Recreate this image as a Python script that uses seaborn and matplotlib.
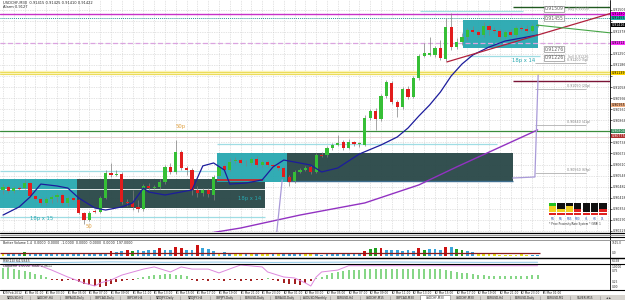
import matplotlib
matplotlib.use("Agg")
import matplotlib.pyplot as plt
import seaborn as sns
import pandas as pd
import numpy as np
from matplotlib.patches import Rectangle
from matplotlib.lines import Line2D

sns.set_style("white")
plt.rcParams['font.family'] = ['DejaVu Sans']

# ---------------- DATA ----------------
opens = [0.90463,0.90480,0.90457,0.90474,0.90474,0.90503,0.90428,0.90411,0.90388,0.90411,
         0.90422,0.90434,0.90388,0.90417,0.90405,0.90330,0.90289,0.90341,0.90336,0.90417,
         0.90561,0.90549,0.90555,0.90393,0.90388,0.90365,0.90353,0.90486,0.90474,0.90480,
         0.90509,0.90596,0.90567,0.90682,0.90590,0.90578,0.90463,0.90445,0.90463,0.90434,
         0.90544,0.90602,0.90578,0.90630,0.90636,0.90619,0.90619,0.90642,0.90607,0.90625,
         0.90607,0.90602,0.90590,0.90538,0.90515,0.90567,0.90578,0.90596,0.90567,0.90665,
         0.90665,0.90706,0.90723,0.90740,0.90706,0.90740,0.90729,0.90723,0.90879,0.90919,
         0.90873,0.91006,0.91081,0.90971,0.90943,0.91047,0.91000,0.91110,0.91237,0.91243,
         0.91243,0.91284,0.91220,0.91405,0.91289,0.91318,0.91347,0.91388,0.91376,0.91359,
         0.91411,0.91388,0.91382,0.91347,0.91376,0.91359,0.91399,0.91393,0.91382,0.91411]
closes = [0.90480,0.90457,0.90474,0.90471,0.90503,0.90428,0.90411,0.90388,0.90411,0.90422,
          0.90434,0.90388,0.90417,0.90405,0.90330,0.90289,0.90330,0.90336,0.90417,0.90561,
          0.90549,0.90555,0.90393,0.90388,0.90365,0.90353,0.90486,0.90474,0.90480,0.90509,
          0.90596,0.90567,0.90682,0.90590,0.90578,0.90463,0.90445,0.90463,0.90440,0.90538,
          0.90596,0.90578,0.90625,0.90636,0.90619,0.90616,0.90642,0.90607,0.90625,0.90607,
          0.90602,0.90590,0.90538,0.90509,0.90567,0.90578,0.90590,0.90567,0.90665,0.90662,
          0.90706,0.90723,0.90734,0.90706,0.90740,0.90729,0.90732,0.90879,0.90919,0.90873,
          0.91006,0.91087,0.90971,0.90943,0.91047,0.91000,0.91110,0.91237,0.91255,0.91255,
          0.91284,0.91226,0.91405,0.91289,0.91318,0.91347,0.91388,0.91376,0.91359,0.91411,
          0.91388,0.91382,0.91347,0.91376,0.91359,0.91399,0.91393,0.91382,0.91411,0.91416]
highs = [0.90497,0.90492,0.90486,0.90486,0.90521,0.90509,0.90434,0.90417,0.90422,0.90434,
         0.90445,0.90445,0.90428,0.90422,0.90411,0.90336,0.90341,0.90353,0.90428,0.90578,
         0.90619,0.90578,0.90567,0.90411,0.90463,0.90405,0.90497,0.90503,0.90492,0.90526,
         0.90607,0.90619,0.90752,0.90694,0.90602,0.90590,0.90486,0.90474,0.90474,0.90549,
         0.90607,0.90613,0.90648,0.90654,0.90648,0.90636,0.90654,0.90659,0.90636,0.90636,
         0.90619,0.90613,0.90602,0.90549,0.90578,0.90590,0.90602,0.90607,0.90677,0.90682,
         0.90717,0.90734,0.90781,0.90752,0.90758,0.90746,0.90740,0.90896,0.90931,0.90937,
         0.91018,0.91099,0.91093,0.90983,0.91058,0.91064,0.91122,0.91249,0.91312,0.91347,
         0.91295,0.91330,0.91457,0.91486,0.91341,0.91370,0.91399,0.91411,0.91388,0.91434,
         0.91422,0.91405,0.91393,0.91388,0.91393,0.91411,0.91411,0.91416,0.91422,0.91422]
lows = [0.90440,0.90445,0.90445,0.90463,0.90469,0.90417,0.90405,0.90376,0.90376,0.90388,
        0.90393,0.90376,0.90370,0.90399,0.90324,0.90266,0.90284,0.90330,0.90330,0.90411,
        0.90538,0.90544,0.90382,0.90370,0.90347,0.90336,0.90341,0.90463,0.90469,0.90469,
        0.90497,0.90555,0.90555,0.90578,0.90549,0.90434,0.90422,0.90428,0.90422,0.90405,
        0.90538,0.90567,0.90573,0.90619,0.90613,0.90602,0.90607,0.90596,0.90596,0.90596,
        0.90590,0.90578,0.90526,0.90486,0.90503,0.90561,0.90573,0.90555,0.90561,0.90654,
        0.90654,0.90694,0.90717,0.90694,0.90700,0.90717,0.90711,0.90717,0.90867,0.90810,
        0.90862,0.90995,0.90960,0.90885,0.90931,0.90989,0.90995,0.91099,0.91232,0.91237,
        0.91232,0.91214,0.91208,0.91272,0.91278,0.91301,0.91330,0.91364,0.91347,0.91347,
        0.91359,0.91370,0.91330,0.91341,0.91347,0.91347,0.91382,0.91370,0.91376,0.91405]

blue_ma_idx = [0,3,5,7,10,12,14,17,19,22,24,26,27,30,35,37,39,41,42,45,48,50,52,57,59,62,66,
               70,73,75,77,79,81,83,85,87,90,93,96,99]
blue_ma_val = [0.90318,0.90365,0.90422,0.90497,0.90486,0.90474,0.90417,0.90359,0.90347,0.90365,
               0.90388,0.90474,0.90451,0.90434,0.90463,0.90602,0.90619,0.90578,0.90497,0.90503,
               0.90521,0.90596,0.90636,0.90607,0.90567,0.90590,0.90671,0.90723,0.90769,0.90821,
               0.90890,0.90954,0.91029,0.91122,0.91191,0.91243,0.91289,0.91324,0.91341,0.91359]
purple_ma_idx = [35,44,55,67,77,84,99]
purple_ma_val = [0.90197,0.90243,0.90318,0.90388,0.90492,0.90596,0.90810]

price_ticks = [0.90226,0.90290,0.90354,0.90418,0.90482,0.90546,0.90610,0.90674,0.90738,
               0.90802,0.90866,0.90930,0.90994,0.91058,0.91122,0.91186,0.91250,0.91314,
               0.91378,0.91442,0.91506]

# boxes: start bar, end bar, top price, bottom price, kind
box_start = [-0.6, 13.7, 39.6, 52.6, 85.2]
box_end   = [13.7, 48.5, 52.6, 94.4, 99.1]
box_top   = [0.90526, 0.90526, 0.90677, 0.90677, 0.91445]
box_bot   = [0.90359, 0.90359, 0.90509, 0.90509, 0.91284]
box_kind  = ['teal', 'dark', 'teal', 'dark', 'teal']
box_text  = ['18p x 15', '18p x 14', '18p x 14']

lvl_magenta, lvl_teal, lvl_violet = 0.91480, 0.91455, 0.91312
lvl_yellow, lvl_green, lvl_faint = 0.91139, 0.90804, 0.90769
lvl_maroon, lvl_dkgreen = 0.91093, 0.91521
cyan_price = [0.90573, 0.90307, 0.90729, 0.91497, 0.91237]
cyan_from  = [-0.6, -0.6, 39.6, 77.2, 85.9]
cyan_to    = [39.6, 48.5, 91.5, 96.3, 99.4]
trend_red_idx, trend_red_val = [82.2, 112.8], [0.91203, 0.91486]
trend_grn_idx, trend_grn_val = [98.9, 112.8], [0.91416, 0.91370]
lav1_idx, lav1_val = [99.1, 98.5, 94.4], [0.91127, 0.90538, 0.90532]
lav2_idx, lav2_val = [51.7, 50.7], [0.90521, 0.90220]
grey_lvls = [0.91197, 0.91047, 0.90839, 0.90561]
grey_lbls = ['0.91200 (5p)', '0.91050 (20p)', '0.90840 (41p)', '0.90560 (69p)']
tag_prices = [0.91509, 0.91455, 0.91276, 0.91226]
axis_tag_p = [0.91480, 0.91455, 0.91416, 0.91312, 0.91139, 0.90955, 0.90804, 0.90775]
axis_tag_c = ['#ff00ff', '#20b2aa', '#000000', '#ff33ff', '#ffd700', '#f4b183', '#2e8b57', '#b03030']

volume = [135,100,135,135,215,135,135,135,135,135,
          100,100,100,100,100,100,100,100,100,135,
          265,215,265,300,265,300,265,300,300,385,
          300,300,465,385,300,300,550,385,335,265,
          135,215,135,135,100,165,100,100,100,100,
          135,100,100,100,135,135,100,100,100,50,
          100,100,100,100,100,100,135,265,350,385,
          385,300,300,300,265,300,265,385,300,335,
          335,300,465,465,335,300,265,215,165,135,
          135,100,50,50,40,50,100,50,50,50]
vol_kind = list("ybbbgbbbbb" "bbbbbbbbbb" "rbbrgbbbbr" "bbrrbbrbbb" "ybbyybybyy"
                "bybbbbyybb" "bbbbbbbrgg" "rbbbbbbrgb" "bbrbggbbyy" "yyyyyyyybb")
vol_avg = 150

hist = [11,11,10,9,8,7,5,4,2,-1, -1,-2,-1,-1,-3,-5,-6,-7,-8,-7,
        -5,-3,-2,-1,-1,1,2,3,4,4, 5,5,4,4,3,-1,-2,-1,-2,-1,
        -1,-2,-1,-1,-2,-1,-2,-1,-1,1, -1,-2,-4,-5,-5,-6,-4,-2,1,2,
        4,6,7,8,9,9,9,10,10,10, 10,10,10,10,10,10,10,10,10,10,
        10,10,9,8,7,6,6,5,4.5,4, 3,3,3,3,3,3,3,3.5,4,4]
lag_idx = [0,7,9,12,15,17,18,20,22,26,28,31,33,35,38,40,43,44,48,49,52,54,56,57,58,59,62,64,99]
lag_val = [1.0,0.96,0.79,0.5,0.25,0.125,0.25,0.375,0.58,0.83,0.92,0.71,0.92,0.83,0.83,0.67,
           0.92,1.0,0.92,0.71,0.5,0.46,0.25,0.125,0.5,0.71,0.79,0.97,0.97]
rsi_idx = [0,10,20,30,40,50,60,70,80,90,99]
rsi_val = [30,25,35,28,32,26,30,34,30,27,29]

# signal table (rows x timeframe columns): g=green y=yellow r=red k=black
sig_rows = ["gkkkkkk", "ykykkkk", "yyyrkkr", "rrrrrrr"]
sig_cols = ["M1", "M5", "M15", "M30", "H1", "H4", "D1"]

time_lbls = ["29 Feb 2012","1 Mar 01:00","1 Mar 03:00","1 Mar 05:00","1 Mar 07:00","1 Mar 09:00",
             "1 Mar 11:00","1 Mar 13:00","1 Mar 15:00","1 Mar 17:00","1 Mar 19:00","1 Mar 21:00",
             "1 Mar 23:00","2 Mar 01:00","2 Mar 03:00","2 Mar 05:00","2 Mar 07:00","2 Mar 09:00",
             "2 Mar 11:00","2 Mar 13:00","2 Mar 15:00","2 Mar 17:00","2 Mar 19:00","2 Mar 21:00",
             "2 Mar 23:00","5 Mar 01:00"]
tabs = ["NZDUSD,H1","CADCHF,H4","GBPAUD,Daily","GBPCAD,Daily","GBPCHF,H4","NZDJPY,Daily",
        "NZDJPY,H4","GBPJPY,Daily","EURUSD,Daily","EURAUD,Daily","AUDUSD,Monthly","EURUSD,H4",
        "USDCHF,M15","GBPCAD,M30","USDCHF,M30","USDCHF,M30","EURUSD,H4","EURUSD,Daily",
        "EURUSD,M1","SILVER,M15"]
active_tab = 14

# ---------------- LAYOUT ----------------
W, H = 625, 300
PX, X0, XR = 5.4, 3.0, 610
XL = (-X0 / PX, (XR - X0) / PX)
YLO, YHI = 0.90220, 0.91561

fig = plt.figure(figsize=(W / 100, H / 100), dpi=100)
fig.patch.set_facecolor('white')

def pax(x0, y0, x1, y1):
    a = fig.add_axes([x0 / W, 1 - y1 / H, (x1 - x0) / W, (y1 - y0) / H])
    a.set_facecolor('none')
    return a

def fline(x0, y0, x1, y1, color='black', lw=0.8):
    fig.add_artist(Line2D([x0 / W, x1 / W], [1 - y0 / H, 1 - y1 / H], color=color, lw=lw))

def ypx(p):
    return (YHI - p) / (YHI - YLO) * 232.0

FS = 2.3
TEAL, DARK = '#27a8b0', '#2c4a4a'

# ---- main price panel ----
ax = pax(0, 0, XR, 232)
ax.set_xlim(XL)
ax.set_ylim(YLO, YHI)
for s in ax.spines.values():
    s.set_visible(False)
ax.set_xticks([])
ax.yaxis.tick_right()
ax.set_yticks(price_ticks)
shown = [f"{t:.5f}" if min(abs(ypx(t) - ypx(q)) for q in axis_tag_p) > 4.0 else ''
         for t in price_ticks]
ax.set_yticklabels(shown, fontsize=FS)
ax.tick_params(axis='y', length=1.2, width=0.5, pad=0.6)
ax.hlines(price_ticks, XL[0], XL[1], color='#c9c9c9', lw=0.5, ls=(0, (1, 1.5)), zorder=0)
ax.vlines(np.arange(0, 113, 2), YLO, YHI, color='#c9c9c9', lw=0.5, ls=(0, (1, 1.5)), zorder=0)

for s0, s1, t, b, k in zip(box_start, box_end, box_top, box_bot, box_kind):
    ax.add_patch(Rectangle((s0, b), s1 - s0, t - b, facecolor=TEAL if k == 'teal' else DARK,
                           edgecolor='none', zorder=1, alpha=0.95 if k == 'teal' else 0.97))

for p, a0, a1 in zip(cyan_price, cyan_from, cyan_to):
    ax.hlines(p, a0, a1, color='#9fdde4', lw=0.9, zorder=2)
ax.hlines(0.90469, XL[0], 48.5, color='white', lw=0.6, zorder=2)
ax.hlines(0.90521, 39.6, 48.1, color='#d42020', lw=1.2, zorder=2)
ax.hlines(0.90515, 52.6, 94.4, color='#3f6f90', lw=1.0, zorder=2)

ax.axhline(lvl_magenta, color='#c832c8', lw=1.0, zorder=2)
ax.axhline(lvl_teal, color='#2a9a9a', lw=0.7, ls=(0, (1, 1)), zorder=2)
ax.axhline(lvl_violet, color='#dba4e0', lw=0.9, ls=(0, (4, 2)), zorder=2)
ax.axhline(lvl_yellow, color='#fbf4b8', lw=3.2, zorder=2)
ax.axhline(lvl_yellow + 0.00008, color='#e9d84a', lw=0.6, zorder=2)
ax.axhline(lvl_yellow - 0.00008, color='#e9d84a', lw=0.6, zorder=2)
ax.axhline(lvl_green, color='#3b8b3b', lw=0.9, zorder=2)
ax.axhline(lvl_faint, color='#e4cccc', lw=0.6, zorder=2)
ax.hlines(lvl_maroon, 94.4, XL[1], color='#7a1436', lw=1.0, zorder=2)
ax.hlines(lvl_dkgreen, 94.4, XL[1], color='#1f5a1f', lw=1.0, zorder=2)

for p, lab in zip(grey_lvls, grey_lbls):
    ax.hlines(p, 98.5, 108.0, color='#b0b0b0', lw=0.6, zorder=2)
    ax.text(104.5, p + 0.00004, lab, fontsize=2.3, color='#808080', ha='left', va='bottom')

# candles
df = pd.DataFrame({'o': opens, 'h': highs, 'l': lows, 'c': closes})
df['i'] = np.arange(len(df))
up = df.c >= df.o
ax.vlines(df.i, df.l, df.h, color='#808080', lw=0.5, zorder=4)
body = (df.c - df.o).abs().clip(lower=0.000025)
ax.bar(df.i, body, bottom=np.minimum(df.o, df.c), width=0.62,
       color=np.where(up, '#36bf36', '#e21c1c'), lw=0, zorder=5)

# moving averages / indicator lines via seaborn
sns.lineplot(x=blue_ma_idx, y=blue_ma_val, ax=ax, color='#1c1c9c', lw=0.9, zorder=6, legend=False)
sns.lineplot(x=purple_ma_idx, y=purple_ma_val, ax=ax, color='#9232c2', lw=1.0, zorder=6, legend=False)
sns.lineplot(x=trend_red_idx, y=trend_red_val, ax=ax, color='#b0203c', lw=0.9, zorder=6, legend=False)
sns.lineplot(x=trend_grn_idx, y=trend_grn_val, ax=ax, color='#46a546', lw=0.8, zorder=6, legend=False)
ax.plot(lav1_idx, lav1_val, color='#a99ad8', lw=0.9, zorder=6)
ax.plot(lav2_idx, lav2_val, color='#a99ad8', lw=0.9, zorder=6)
ax.set_xlabel(''); ax.set_ylabel('')
ax.set_xlim(XL); ax.set_ylim(YLO, YHI)

# box texts
ax.text(5.0, 0.90300, box_text[0], fontsize=3.8, color=TEAL, va='center')
ax.text(43.5, 0.90413, box_text[1], fontsize=3.8, color=TEAL, va='center')
ax.text(94.2, 0.91211, box_text[2], fontsize=3.8, color=TEAL, va='center')
ax.text(32.0, 0.90830, '50p', fontsize=3.8, color='#e0a040', va='center')
ax.text(15.3, 0.90250, '50', fontsize=3.8, color='#e0a040', va='center')

for p in tag_prices:
    ax.text(100.3, p, f"{p:.5f}", fontsize=3.3, color='#606060', va='center', ha='left',
            bbox=dict(boxstyle='square,pad=0.12', fc='white', ec='#909090', lw=0.5), zorder=7)
ax.text(104.6, 0.91509, 'Buy 0.91509', fontsize=2.3, color='#909090', va='center')
ax.text(104.6, 0.91230, 'Sell 0.91226', fontsize=2.3, color='#909090', va='center')

# coloured price tags on the axis
for p, c in zip(axis_tag_p, axis_tag_c):
    ax.annotate(f"{p:.5f}", xy=(1.0, p), xycoords=('axes fraction', 'data'),
                xytext=(1.0, 0), textcoords='offset points', fontsize=FS, va='center',
                color='white' if c in ('#000000', '#2e8b57', '#b03030') else 'black',
                bbox=dict(boxstyle='square,pad=0.05', fc=c, ec='none'), annotation_clip=False)

# signal table on the right
cw, rh = 8.4, 2.6
scol = {'g': '#22c022', 'y': '#f0d020', 'r': '#e02020', 'k': '#101010'}
for r, row in enumerate(sig_rows):
    for c, k in enumerate(row):
        fig.add_artist(Rectangle(((549 + c * cw) / W, 1 - (203 + r * (rh + 0.6) + rh) / H),
                                 (cw - 1.2) / W, rh / H, transform=fig.transFigure,
                                 fc=scol[k], ec='none'))
for c, lab in enumerate(sig_cols):
    fig.text((549 + c * cw + 3.6) / W, 1 - 219 / H, lab, fontsize=1.9, ha='center', va='center',
             color='#3050b0')
fig.text(549 / W, 1 - 223.5 / H, "* Price Proximity/Rate System * (SPA) 1", fontsize=1.9,
         va='center', color='#303030')

fig.text(3 / W, 1 - 3.5 / H, "USDCHF,M30  0.91415 0.91425 0.91410 0.91422", fontsize=2.6, va='center')
fig.text(3 / W, 1 - 7.5 / H, "Alarm 0.9127", fontsize=2.6, va='center')

# separators / frames
fline(XR, 0, XR, 290, lw=0.6)
for yy, c, w in [(232.5, 'black', 0.9), (234.5, '#888888', 0.6), (237.0, 'black', 0.8),
                 (239.5, '#888888', 0.6), (257.8, 'black', 1.0), (263.8, 'black', 0.8),
                 (290.2, 'black', 0.8)]:
    fline(0, yy, W, yy, color=c, lw=w)

# ---- volume panel ----
vax = pax(0, 241, XR, 257)
vax.set_xlim(XL); vax.set_ylim(-50, 750); vax.axis('off')
vcol = {'b': '#38a4da', 'r': '#cc1111', 'g': '#1f9f1f', 'y': '#e2e21c'}
vax.bar(np.arange(len(volume)), volume, width=0.5, color=[vcol[k] for k in vol_kind], lw=0)
vax.hlines(vol_avg, XL[0], 99.4, color='#8b1a1a', lw=0.9)
fig.text(3 / W, 1 - 243.5 / H, "Better Volume 1.4  0.0000  0.0000  -1.0000  0.0000  0.0000  0.0000  197.0000",
         fontsize=2.3, va='center')

# ---- RSI panel ----
rax = pax(0, 258, XR, 264)
sns.lineplot(x=rsi_idx, y=rsi_val, ax=rax, color='#8cc6e6', lw=0.7, legend=False)
rax.set_xlim(XL); rax.set_ylim(0, 100); rax.axis('off')
fig.text(3 / W, 1 - 260.5 / H, "RSI(14) 64.5845", fontsize=2.3, va='center')

# ---- Laguerre / histogram panel ----
lax = pax(0, 264, XR, 290)
lax.set_xlim(XL); lax.set_ylim(-11, 15); lax.axis('off')
hcol = ['#86d686' if v > 0 else '#a32020' for v in hist]
lax.bar(np.arange(len(hist)), hist, width=0.35, color=hcol, lw=0)
lax2 = lax.twinx()
sns.lineplot(x=lag_idx, y=lag_val, ax=lax2, color='#dd88dd', lw=0.7, legend=False)
lax2.set_xlim(XL); lax2.set_ylim(-0.042, 1.042); lax2.axis('off')
fig.text(3 / W, 1 - 266.5 / H, "Laguerre 1.0000  Filter 0.9611", fontsize=2.3, va='center')
for yy, lab in [(266.5, '1.0000'), (271, '0.75'), (282, '0.25'), (287, '0.00')]:
    fig.text(611.5 / W, 1 - yy / H, lab, fontsize=2.1, va='center')
for yy, lab in [(243.5, '1515.0'), (253.5, '0.0'), (261, '64.58')]:
    fig.text(611.5 / W, 1 - yy / H, lab, fontsize=2.1, va='center')

# ---- time axis ----
for k, lab in enumerate(time_lbls):
    xpx = X0 + PX * 4 * k
    fline(xpx, 290.5, xpx, 292.5, lw=0.5)
    fig.text((xpx + 1) / W, 1 - 292.8 / H, lab, fontsize=2.05, va='center', ha='left')

# ---- tab bar ----
fig.add_artist(Rectangle((0, 0), 1, 5.5 / H, transform=fig.transFigure, fc='#d6d3ce', ec='none'))
tw = 600 / len(tabs)
for k, name in enumerate(tabs):
    x0 = k * tw
    if k == active_tab:
        fig.add_artist(Rectangle((x0 / W, 0), tw / W, 5.5 / H, transform=fig.transFigure,
                                 fc='white', ec='#808080', lw=0.4))
    else:
        fline(x0 + tw, 295.5, x0 + tw, 299.5, color='#909090', lw=0.4)
    fig.text((x0 + tw / 2) / W, 1 - 297.6 / H, name, fontsize=2.1, ha='center', va='center',
             color='#222222')
fig.text(606 / W, 1 - 297.6 / H, "\u25c4 \u25ba", fontsize=2.0, va='center')

fig.savefig("out.png", dpi=100, facecolor='white')
